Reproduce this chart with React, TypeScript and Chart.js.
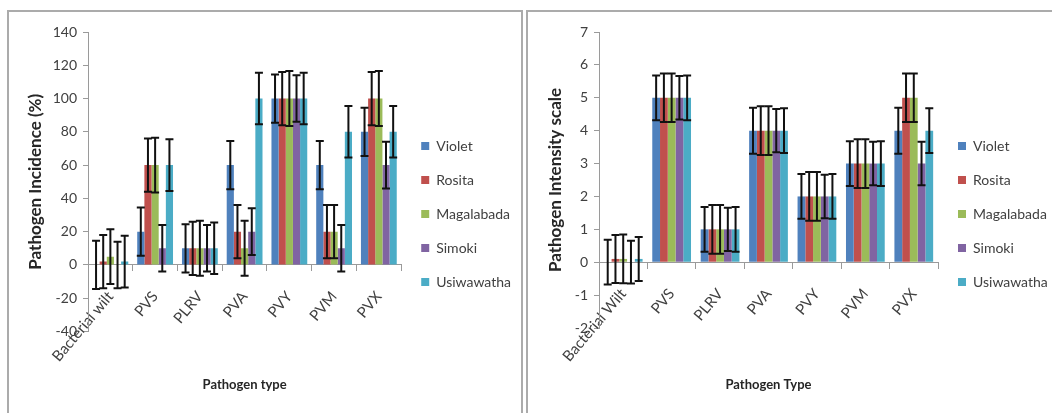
import React, { useEffect, useRef } from "react";
import { Chart, registerables } from "chart.js";

Chart.register(...registerables);
Chart.defaults.font.family = "Lato, 'Noto Sans', sans-serif";

// ---- Data ----
const seriesNames = ["Violet", "Rosita", "Magalabada", "Simoki", "Usiwawatha"];
const seriesColors = ["#4F81BD", "#C0504D", "#9BBB59", "#8064A2", "#4BACC6"];

const incidenceCategories = ["Bacterial wilt", "PVS", "PLRV", "PVA", "PVY", "PVM", "PVX"];
const violetIncidence = [0, 20, 10, 60, 100, 60, 80];
const rositaIncidence = [2, 60, 10, 20, 100, 20, 100];
const magalabadaIncidence = [5, 60, 10, 10, 100, 20, 100];
const simokiIncidence = [0, 10, 10, 20, 100, 10, 60];
const usiwawathaIncidence = [2, 60, 10, 100, 100, 80, 80];
const violetIncidenceErr = [14.5, 14.5, 14.5, 14.5, 14.5, 14.5, 14.5];
const rositaIncidenceErr = [16, 16, 16, 16, 16, 16, 16];
const magalabadaIncidenceErr = [16.5, 16.5, 16.5, 16.5, 16.5, 16, 16.5];
const simokiIncidenceErr = [14, 14, 14, 14, 14, 14, 14];
const usiwawathaIncidenceErr = [15.5, 15.5, 15.5, 15.5, 15.5, 15.5, 15.5];

const intensityCategories = ["Bacterial Wilt", "PVS", "PLRV", "PVA", "PVY", "PVM", "PVX"];
const violetIntensity = [0, 5, 1, 4, 2, 3, 4];
const rositaIntensity = [0.1, 5, 1, 4, 2, 3, 5];
const magalabadaIntensity = [0.1, 5, 1, 4, 2, 3, 5];
const simokiIntensity = [0, 5, 1, 4, 2, 3, 3];
const usiwawathaIntensity = [0.1, 5, 1, 4, 2, 3, 4];
const violetIntensityErr = [0.68, 0.68, 0.68, 0.7, 0.68, 0.68, 0.7];
const rositaIntensityErr = [0.73, 0.74, 0.74, 0.74, 0.74, 0.74, 0.74];
const magalabadaIntensityErr = [0.74, 0.74, 0.74, 0.74, 0.74, 0.74, 0.74];
const simokiIntensityErr = [0.65, 0.66, 0.66, 0.66, 0.66, 0.66, 0.66];
const usiwawathaIntensityErr = [0.67, 0.68, 0.68, 0.68, 0.68, 0.68, 0.68];

const incidenceTicks = { min: -40, max: 140, step: 20 };
const intensityTicks = { min: -2, max: 7, step: 1 };

const axisColor = "#9a9a9a";
const tickColor = "#404040";
const titleColor = "#262626";

const errorBarPlugin = {
  id: "errorBars",
  afterDatasetsDraw(chart: any) {
    const ctx = chart.ctx;
    const yScale = chart.scales.y;
    chart.data.datasets.forEach((ds: any, i: number) => {
      const meta = chart.getDatasetMeta(i);
      const errs: number[] = ds.errorBars || [];
      meta.data.forEach((bar: any, j: number) => {
        const v = ds.data[j];
        const e = errs[j];
        if (e == null) return;
        const x = bar.x;
        const yT = yScale.getPixelForValue(v + e);
        const yB = yScale.getPixelForValue(v - e);
        ctx.save();
        ctx.strokeStyle = "#111";
        ctx.lineWidth = 2;
        ctx.beginPath();
        ctx.moveTo(x, yT);
        ctx.lineTo(x, yB);
        ctx.moveTo(x - 4, yT);
        ctx.lineTo(x + 4, yT);
        ctx.moveTo(x - 4, yB);
        ctx.lineTo(x + 4, yB);
        ctx.stroke();
        ctx.restore();
      });
    });
  },
};

function makeConfig(opts: {
  labels: string[];
  values: number[][];
  errors: number[][];
  ticks: { min: number; max: number; step: number };
  yTitle: string;
  xTitle: string;
  yWidth: number;
  yTitlePad: number;
  legendWidth: number;
  xTitlePadTop: number;
}): any {
  return {
    type: "bar",
    data: {
      labels: opts.labels,
      datasets: seriesNames.map((name, i) => ({
        label: name,
        data: opts.values[i],
        errorBars: opts.errors[i],
        backgroundColor: seriesColors[i],
        borderWidth: 0,
        categoryPercentage: 0.8,
        barPercentage: 1.0,
      })),
    },
    options: {
      responsive: false,
      animation: false,
      layout: { padding: { top: 20, bottom: 17, left: 0, right: 0 } },
      scales: {
        x: {
          position: { y: 0 },
          offset: true,
          grid: { offset: true, drawOnChartArea: false, tickLength: 6, color: axisColor },
          border: { color: axisColor, width: 1 },
          ticks: {
            minRotation: 50,
            maxRotation: 50,
            autoSkip: false,
            padding: 17,
            font: { size: 15 },
            color: tickColor,
          },
        },
        y: {
          min: opts.ticks.min,
          max: opts.ticks.max,
          ticks: { stepSize: opts.ticks.step, padding: 6, font: { size: 14 }, color: tickColor },
          grid: { drawOnChartArea: false, tickLength: 5, color: axisColor },
          border: { color: axisColor, width: 1 },
          title: {
            display: true,
            text: opts.yTitle,
            font: { size: 17, weight: "bold" },
            color: titleColor,
            padding: { top: opts.yTitlePad, bottom: 0 },
          },
          afterFit: (s: any) => {
            s.width = opts.yWidth;
          },
        },
      },
      plugins: {
        legend: {
          position: "right",
          align: "center",
          maxWidth: opts.legendWidth,
          labels: {
            boxWidth: 8,
            boxHeight: 8,
            padding: 20,
            font: { size: 14 },
            color: tickColor,
          },
        },
        title: {
          display: true,
          position: "bottom",
          fullSize: false,
          text: opts.xTitle,
          font: { size: 13, weight: "bold" },
          color: titleColor,
          padding: { top: opts.xTitlePadTop, bottom: 3.2 },
        },
        tooltip: { enabled: false },
      },
    },
    plugins: [errorBarPlugin],
  };
}

function ChartCanvas(props: { config: any; left: number; top: number; width: number; height: number }) {
  const ref = useRef<HTMLCanvasElement | null>(null);
  useEffect(() => {
    if (!ref.current) return;
    const chart = new Chart(ref.current, props.config);
    return () => chart.destroy();
  }, []);
  return (
    <canvas
      ref={ref}
      width={props.width}
      height={props.height}
      style={{
        position: "absolute",
        left: props.left,
        top: props.top,
        width: props.width,
        height: props.height,
      }}
    />
  );
}

export default function App() {
  const incidenceConfig = makeConfig({
    labels: incidenceCategories,
    values: [violetIncidence, rositaIncidence, magalabadaIncidence, simokiIncidence, usiwawathaIncidence],
    errors: [violetIncidenceErr, rositaIncidenceErr, magalabadaIncidenceErr, simokiIncidenceErr, usiwawathaIncidenceErr],
    ticks: incidenceTicks,
    yTitle: "Pathogen Incidence (%)",
    xTitle: "Pathogen type",
    yWidth: 79,
    yTitlePad: 16,
    legendWidth: 123,
    xTitlePadTop: 45.7,
  });
  const intensityConfig = makeConfig({
    labels: intensityCategories,
    values: [violetIntensity, rositaIntensity, magalabadaIntensity, simokiIntensity, usiwawathaIntensity],
    errors: [violetIntensityErr, rositaIntensityErr, magalabadaIntensityErr, simokiIntensityErr, usiwawathaIntensityErr],
    ticks: intensityTicks,
    yTitle: "Pathogen Intensity scale",
    xTitle: "Pathogen Type",
    yWidth: 71,
    yTitlePad: 17,
    legendWidth: 114,
    xTitlePadTop: 49.2,
  });
  return (
    <div
      style={{
        position: "fixed",
        left: 0,
        top: 0,
        width: 1052,
        height: 413,
        overflow: "hidden",
        background: "#fff",
      }}
    >
      <div
        style={{
          position: "absolute",
          left: 7,
          top: 10,
          width: 516,
          height: 460,
          border: "2px solid #ababab",
          boxSizing: "border-box",
        }}
      />
      <div
        style={{
          position: "absolute",
          left: 526,
          top: 10,
          width: 600,
          height: 460,
          border: "2px solid #ababab",
          boxSizing: "border-box",
        }}
      />
      <ChartCanvas config={incidenceConfig} left={9} top={12} width={512} height={401} />
      <ChartCanvas config={intensityConfig} left={528} top={12} width={524} height={401} />
    </div>
  );
}
